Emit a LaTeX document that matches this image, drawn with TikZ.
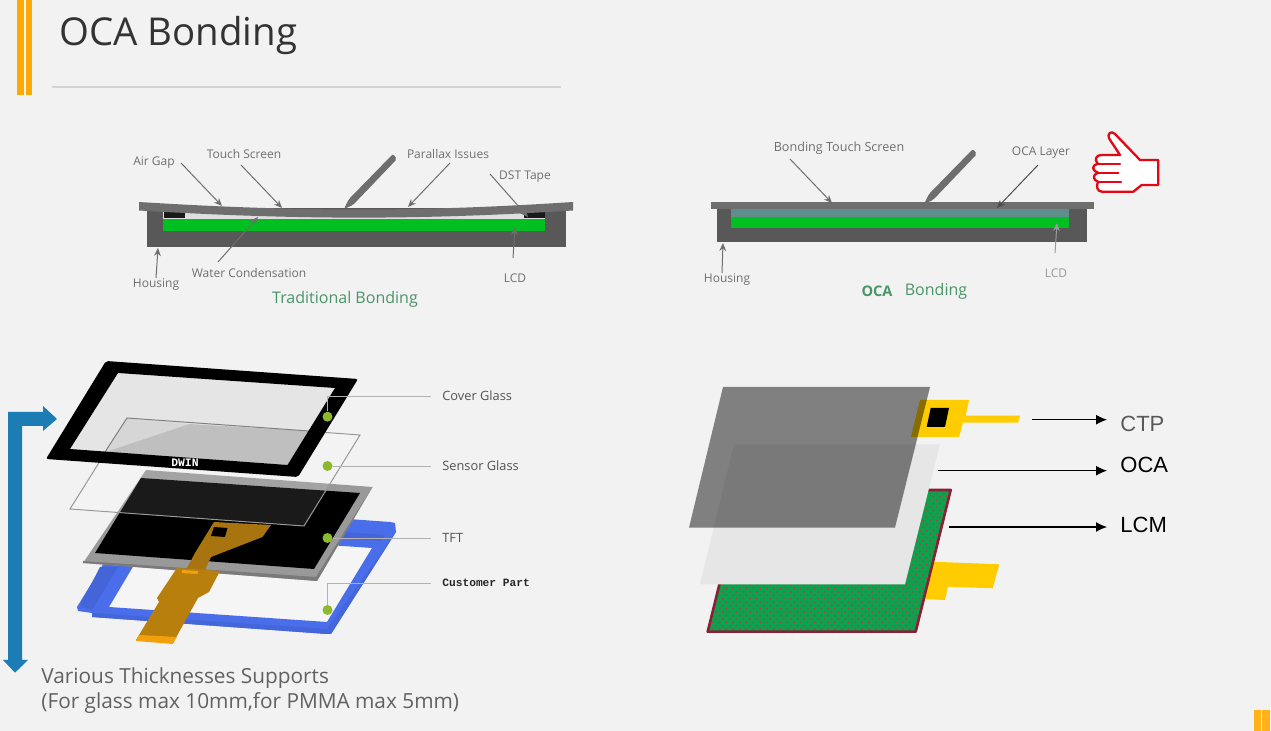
\documentclass[tikz,border=0pt]{standalone}
\usepackage{fontspec}
\setmainfont{Open Sans}
\setmonofont{Liberation Mono}
\newfontfamily\arialfont{Liberation Sans}
\usepackage{tikz}
\usetikzlibrary{arrows.meta,patterns.meta}
\definecolor{paper}{HTML}{F2F2F2}
\definecolor{ink}{HTML}{333333}
\definecolor{amber}{HTML}{FFAA00}
\definecolor{housing}{HTML}{585858}
\definecolor{lens}{HTML}{6E6E6E}
\definecolor{lcdgreen}{HTML}{00BF20}
\definecolor{ocateal}{HTML}{5F8F8C}
\definecolor{tag}{HTML}{6F6F6F}
\definecolor{capgreen}{HTML}{4A9568}
\definecolor{thumb}{HTML}{E30613}
\definecolor{steel}{HTML}{1B7DB3}
\definecolor{frameblue}{HTML}{4A6EEA}
\definecolor{flexbrown}{HTML}{A8740F}
\definecolor{flexlight}{HTML}{B97F0C}
\definecolor{leaf}{HTML}{8DB92E}
\definecolor{fpc}{HTML}{FFCC00}
\definecolor{lcmred}{HTML}{8A2035}
\definecolor{lcmgreen}{HTML}{0BA14F}
\definecolor{lcmdot}{HTML}{B5403A}
\tikzset{
  tagtext/.style={font=\fontsize{6}{7}\selectfont,text=tag,inner sep=0pt},
  partlbl/.style={font=\fontsize{6.4}{7.5}\selectfont,text=ink!85,inner sep=0pt,anchor=west},
  bigcap/.style={font=\fontsize{8}{9}\selectfont,text=capgreen,inner sep=0pt},
  ptr/.style={-{Stealth[length=4pt,width=3.4pt]},draw=tag,line width=.5pt},
  leader/.style={draw=black!30,line width=.4pt},
  dotmark/.style={circle,fill=leaf,minimum size=5pt,inner sep=0pt},
  lay/.style={-{Latex[length=5.5pt,width=5pt]},draw=black,line width=.55pt},
  laylbl/.style={font=\arialfont\fontsize{11}{13}\selectfont,inner sep=0pt,anchor=west}}
\begin{document}
\begin{tikzpicture}[x=.5pt,y=-.5pt]
  \useasboundingbox (0,0) rectangle (1271,731);
  \fill[paper] (0,0) rectangle (1271,731);
  % page furniture
  \fill[amber] (17,0) rectangle (24,95);
  \fill[amber] (25.7,0) rectangle (32.3,95);
  \fill[amber!90!white] (1254,710) rectangle (1261,731);
  \fill[amber!90!white] (1262,710) rectangle (1269.5,731);
  \node[font=\fontsize{19.2}{22}\selectfont,text=ink,inner sep=0pt,anchor=base west] (title) at (59,45.5) {OCA Bonding};
  \draw[black!17,line width=.7pt] (52,87) -- (561,87);

  % traditional bonding
  \fill[housing] (147,208) rectangle (566,247);
  \fill[black!13] (163,212) rectangle (545,220);
  \fill[lcdgreen] (163,219.3) rectangle (545,231);
  \fill[black!90] (164,212) rectangle (185,218);
  \fill[black!90] (524,212) rectangle (545,218);
  \fill[lens] (139,202) .. controls (300,212) and (420,212) .. (573,202) -- (573,210.5) .. controls (420,220) and (300,220) .. (139,210.5) -- cycle;
  \fill[lens,rounded corners=1pt] (344,209) -- (349,199) -- (393,154) -- (397,159) -- (353,205) -- cycle;
  \node[tagtext] (tgap) at (154,163) {Air Gap};
  \node[tagtext] (ttouch) at (244,154) {Touch Screen};
  \node[tagtext] (tpara) at (448,154) {Parallax Issues};
  \node[tagtext] (ttape) at (525,177) {DST Tape};
  \node[tagtext] (thous) at (156,285) {Housing};
  \node[tagtext] (twater) at (249,273) {Water Condensation};
  \node[tagtext] (tlcd) at (515,278) {LCD};
  \node[bigcap] (tcap) at (345,299) {Traditional Bonding};
  \coordinate (ga) at (181,163); \coordinate (gb) at (222,206); \draw[ptr] (ga) -- (gb);
  \coordinate (sa) at (241,165); \coordinate (sb) at (282,208); \draw[ptr] (sa) -- (sb);
  \coordinate (pa) at (450,163); \coordinate (pb) at (408,207); \draw[ptr] (pa) -- (pb);
  \coordinate (da) at (490,174); \coordinate (db) at (528,217); \draw[ptr] (da) -- (db);
  \coordinate (ha) at (156,278); \coordinate (hb) at (158,248); \draw[ptr] (ha) -- (hb);
  \coordinate (wa) at (218,262); \coordinate (wb) at (258,217); \draw[ptr] (wa) -- (wb);
  \coordinate (la) at (513,258); \coordinate (lb) at (515,227); \draw[ptr] (la) -- (lb);

  % oca bonding
  \fill[housing] (717,208) rectangle (1087,242);
  \fill[ocateal] (731,209) rectangle (1069,217);
  \fill[lcdgreen] (731,217) rectangle (1069,228);
  \fill[lens] (711,202) rectangle (1094,209);
  \fill[lens,rounded corners=1pt] (924,204) -- (929,194) -- (973,149) -- (977,154) -- (933,200) -- cycle;
  \node[tagtext,font=\fontsize{6.3}{7}\selectfont] (otouch) at (839,148) {Bonding Touch Screen};
  \node[tagtext] (olayer) at (1041,153) {OCA Layer};
  \node[tagtext] (ohous) at (727,280) {Housing};
  \node[tagtext,text=tag!70] (olcd) at (1056,273) {LCD};
  \node[bigcap,font=\fontsize{7.3}{9}\selectfont\bfseries] (ocap) at (877,291) {OCA};
  \node[bigcap] (ocapb) at (936,291) {Bonding};
  \coordinate (oa) at (790,159); \coordinate (ob) at (832,203); \draw[ptr] (oa) -- (ob);
  \coordinate (qa) at (1038,165); \coordinate (qb) at (997,208); \draw[ptr,draw=black!70] (qa) -- (qb);
  \coordinate (ra) at (722,273); \coordinate (rb) at (723,243); \draw[ptr] (ra) -- (rb);
  \coordinate (ua) at (1055,253); \coordinate (ub) at (1057,223); \draw[ptr,draw=tag!70] (ua) -- (ub);

  % thumb
  \draw[thumb,fill=white,line width=1.15pt,line join=round] (1120,155) -- (1109,138.3) .. controls (1107,134) and (1111,130) .. (1115,134) -- (1140,160) -- (1158.3,160) -- (1158.3,185) -- (1141.7,185) -- (1133.3,191.7) -- (1102,191.7) .. controls (1097,191.7) and (1096,186) .. (1098,181.7) .. controls (1093,180) and (1092,175) .. (1098,172.7) .. controls (1092,171) and (1091,165) .. (1098,164) .. controls (1094,160) and (1096,155) .. (1101,155) -- cycle;
  \draw[thumb,line width=1.15pt,line cap=round] (1098.3,164) -- (1120,164);
  \draw[thumb,line width=1.15pt,line cap=round] (1098.3,172.7) -- (1118.3,172.7);
  \draw[thumb,line width=1.15pt,line cap=round] (1098,181.7) -- (1121,181.7);

  % exploded stack
  \fill[white!25!paper] (153,533) -- (372,548) -- (327,622) -- (109,607) -- cycle;
  \fill[frameblue,even odd rule] (140,504) -- (390,522) -- (395,523) -- (396,532) -- (331,634) -- (327,634) -- (92,617) -- (92,613) -- (78,611) -- (77,607) -- cycle (153,533) -- (372,548) -- (327,622) -- (109,607) -- cycle;
  \fill[frameblue!92!black] (100,567) -- (118,567) -- (92,610) -- (80,606) -- cycle;
  \fill[frameblue!92!black] (340,532) -- (385,535) -- (381,541) -- (340,538) -- cycle;
  \fill[frameblue!93!black] (396,532) -- (331,634) -- (327,634) -- (92,617) -- (92,613) -- (327,629) -- cycle;
  \fill[black!40] (146,470) -- (372.5,487) -- (317,581) -- (83,563) -- cycle;
  \fill[black!52] (83,561) -- (316,577) -- (372.5,487) -- (317,581) -- (83,563) -- cycle;
  \fill[black] (141,478) -- (360,493) -- (314,569) -- (95,553) -- cycle;
  \fill[white,fill opacity=.1] (127,418) -- (360,435) -- (304,526) -- (70,509) -- cycle;
  \draw[black!40,line width=.5pt] (127,418) -- (360,435) -- (304,526) -- (70,509) -- cycle;
  \fill[flexbrown] (214,522) -- (271,525) -- (262.5,537) -- (211,557) -- (205,570) -- (186,570) -- (195,553) -- cycle;
  \fill[black] (214,527) -- (227.5,528) -- (225,537) -- (211,536) -- cycle;
  \fill[flexlight] (177,568) -- (220,571) -- (209,592) -- (198,598) -- (173,643) -- (136,640) -- (159,602) -- (157,598) -- cycle;
  \fill[amber!80!brown] (182,570) -- (198,571) -- (197.5,574) -- (182,573) -- cycle;
  \fill[amber!80!brown] (139,635) -- (177,637) -- (172.5,644) -- (136,641) -- cycle;
  \fill[black!10] (118,373) -- (335,388) -- (287.5,465) -- (70,449) -- cycle;
  \fill[black!25] (189,424) -- (309,431) -- (287.5,465) -- (105,452) -- cycle;
  \fill[black!16] (127,418) -- (189,424) -- (105,452) -- cycle;
  \draw[black!50,line width=.5pt] (105,452) -- (127,418) -- (309,431);
  \fill[black,even odd rule] (106,361) [rounded corners=1pt] -- (358,379) -- (298,477) -- (46,459) -- cycle [sharp corners] (118,373) -- (335,388) -- (287.5,465) -- (70,449) -- cycle;
  \node[font=\ttfamily\bfseries\fontsize{5.7}{6}\selectfont,text=white,inner sep=0pt] (dwin) at (185,463) {DWIN};
  \node[partlbl] (cover) at (442,396) {Cover Glass};
  \node[partlbl] (sensor) at (442,466) {Sensor Glass};
  \node[partlbl] (tft) at (442,538) {TFT};
  \node[partlbl,font=\ttfamily\bfseries\fontsize{5.6}{6}\selectfont,text=black!85] (custom) at (442,583) {Customer Part};
  \node[dotmark] (dc) at (327.5,416.7) {};
  \node[dotmark] (ds) at (327.5,466) {};
  \node[dotmark] (dt) at (327.5,538) {};
  \node[dotmark] (dp) at (327.5,610) {};
  \coordinate (ec) at (431,396); \coordinate (es) at (431,466); \coordinate (et) at (431,538); \coordinate (ep) at (431,583);
  \draw[leader] (dc) |- (ec);
  \draw[leader] (ds) -- (es);
  \draw[leader] (dt) -- (et);
  \draw[leader] (dp) |- (ep);

  % thickness marker
  \fill[steel] (57,419) -- (43,406) -- (43,412) -- (8,412) -- (8,660) -- (3,660) -- (15,672.7) -- (28,660) -- (22,660) -- (22,426) -- (43,426) -- (43,431) -- cycle;
  \node[font=\fontsize{10.4}{12.6}\selectfont,text=black!62,inner sep=0pt,align=left,anchor=north west] (thick) at (41,667.5) {Various Thicknesses Supports\\(For glass max 10mm,for PMMA max 5mm)};

  % layer sketch
  \fill[fpc] (923,599) -- (931.7,561.7) -- (999.3,564.3) -- (992.7,588.3) -- (948,586.7) -- (945,600) -- cycle;
  \fill[lcmgreen] (742.7,490) -- (950.7,490) -- (915.7,631.7) -- (707.7,631.7) -- cycle;
  \fill[pattern={Dots[angle=45,distance=2.4pt,radius=.5pt]},pattern color=lcmdot] (742.7,490) -- (950.7,490) -- (915.7,631.7) -- (707.7,631.7) -- cycle;
  \draw[lcmred,line width=1.3pt,line join=round] (742.7,490) -- (950.7,490) -- (915.7,631.7) -- (707.7,631.7) -- cycle;
  \fill[black!5!paper] (734,444.3) -- (940,444.3) -- (905,584.3) -- (700,584.3) -- cycle;
  \fill[fpc] (920,400) -- (969,400) -- (965.7,415.7) -- (1020,415.7) -- (1018,422.7) -- (963,422.7) -- (959,437) -- (911,437) -- cycle;
  \fill[black] (930.7,408) -- (949,408) -- (945,427) -- (926.7,427) -- cycle;
  \fill[black,fill opacity=.47] (723,387) -- (930,387) -- (895,527.7) -- (689,527.7) -- cycle;
  \node[laylbl,text=black!65] (ctp) at (1120,424) {CTP};
  \node[laylbl] (oca) at (1120,465) {OCA};
  \node[laylbl] (lcm) at (1120,525) {LCM};
  \coordinate (ctpa) at (1032,419.7); \coordinate (ctpb) at (1107,419.7); \draw[lay] (ctpa) -- (ctpb);
  \coordinate (ocaa) at (938,470.7); \coordinate (ocab) at (1107,470.7); \draw[lay] (ocaa) -- (ocab);
  \coordinate (lcma) at (949,527); \coordinate (lcmb) at (1107,527); \draw[lay] (lcma) -- (lcmb);
\end{tikzpicture}
\end{document}
